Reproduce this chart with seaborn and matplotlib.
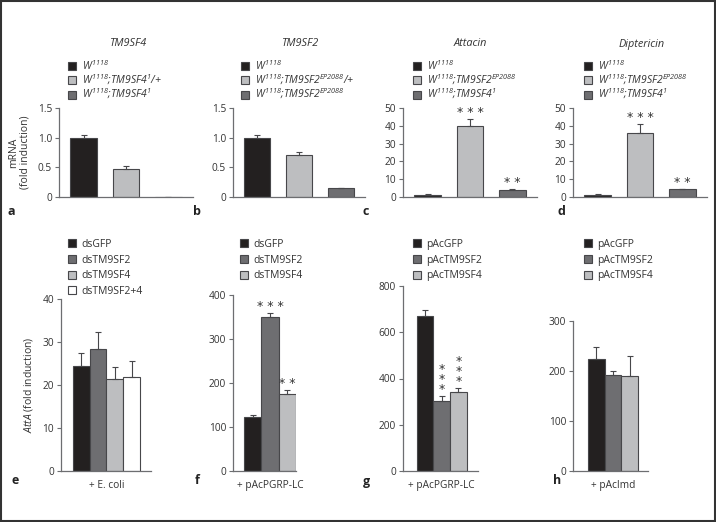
"""
TM9SF2 / TM9SF4 bar panels (a-h) re-drawn with seaborn.
"""

import numpy as np
import pandas as pd

import matplotlib
matplotlib.use('Agg')
import matplotlib.pyplot as plt
from matplotlib.patches import Rectangle
import seaborn as sns

sns.set_style('white')
plt.rcParams['font.family'] = ['Open Sans', 'DejaVu Sans']
plt.rcParams['mathtext.fontset'] = 'custom'
plt.rcParams['mathtext.it'] = 'Open Sans:italic'
plt.rcParams['mathtext.rm'] = 'Open Sans:italic'
plt.rcParams['mathtext.default'] = 'it'

BLACK = '#231f20'
DARK = '#6d6e71'
LIGHT = '#bcbec0'
WHITE = '#ffffff'
EDGE = '#47474a'
TXT = '#333333'

# ---- data: top row (mRNA fold induction) ----
a_groups = [r'$W^{1118}$', r'$W^{1118}$;$TM9SF4^{1}$/+', r'$W^{1118}$;$TM9SF4^{1}$']
a_vals = [1.0, 0.48, 0.004]
a_err = [0.04, 0.04, 0.0]

b_groups = [r'$W^{1118}$', r'$W^{1118}$;$TM9SF2^{EP2088}$/+', r'$W^{1118}$;$TM9SF2^{EP2088}$']
b_vals = [1.0, 0.71, 0.15]
b_err = [0.04, 0.05, 0.01]

c_groups = [r'$W^{1118}$', r'$W^{1118}$;$TM9SF2^{EP2088}$', r'$W^{1118}$;$TM9SF4^{1}$']
c_vals = [1.3, 40.0, 3.9]
c_err = [0.2, 4.0, 0.4]
c_stars = ['', '* * *', '* *']

d_groups = c_groups
d_vals = [1.3, 36.2, 4.3]
d_err = [0.2, 4.8, 0.4]
d_stars = ['', '* * *', '* *']

# ---- data: bottom row (AttA fold induction) ----
e_groups = ['dsGFP', 'dsTM9SF2', 'dsTM9SF4', 'dsTM9SF2+4']
e_vals = [24.5, 28.3, 21.4, 21.8]
e_err = [2.9, 4.0, 2.9, 3.7]

f_groups = ['dsGFP', 'dsTM9SF2', 'dsTM9SF4']
f_vals = [123, 350, 174]
f_err = [4, 8, 9]
f_stars = ['', '* * *', '* *']

g_groups = ['pAcGFP', 'pAcTM9SF2', 'pAcTM9SF4']
g_vals = [672, 302, 340]
g_err = [24, 22, 18]
g_stars = ['', '*\n*\n*', '*\n*\n*']

h_groups = g_groups
h_vals = [224, 193, 191]
h_err = [25, 7, 40]


def px_axes(fig, x0, x1, ytop, ybot):
    W, H = 716, 522
    return fig.add_axes([x0 / W, 1 - ybot / H, (x1 - x0) / W, (ybot - ytop) / H])


def style_axes(ax, yticks, ylabels):
    sns.despine(ax=ax)
    for s in ['left', 'bottom']:
        ax.spines[s].set_color('#6d6e71')
        ax.spines[s].set_linewidth(0.9)
    ax.set_yticks(yticks)
    ax.set_yticklabels(ylabels)
    ax.set_ylim(yticks[0], yticks[-1])
    ax.tick_params(axis='y', left=True, length=3, width=0.8, color='#6d6e71',
                   labelsize=7.3, labelcolor=TXT, pad=2)
    ax.tick_params(axis='x', bottom=False, labelsize=7.3, labelcolor=TXT, pad=3)
    ax.set_xlabel('')
    ax.set_ylabel('')


def add_errors_and_stars(ax, errs, stars=None):
    bars = [b for c in ax.containers for b in c]
    xs = [b.get_x() + b.get_width() / 2 for b in bars]
    hs = [b.get_height() for b in bars]
    ax.errorbar(xs, hs, yerr=[np.zeros(len(errs)), errs], fmt='none',
                ecolor=EDGE, elinewidth=0.8, capsize=2.5, capthick=0.8, zorder=1)
    if stars:
        for x, h, e, s in zip(xs, hs, errs, stars):
            if not s:
                continue
            ax.annotate(s, (x, h + e), xytext=(0, 0), textcoords='offset points',
                        ha='center', va='bottom', fontsize=9, color=TXT,
                        linespacing=0.7, family='DejaVu Sans')


def place_legend(ax, fig, x, ytop, spacing, italic=False):
    prop = {'size': 7.5}
    if italic:
        prop['style'] = 'italic'
    sns.move_legend(ax, 'upper left', bbox_to_anchor=(x / 716, 1 - ytop / 522),
                    bbox_transform=fig.transFigure, frameon=False, title=None,
                    prop=prop, handlelength=0.8, handleheight=0.8,
                    handletextpad=0.5, labelspacing=spacing, borderpad=0,
                    borderaxespad=0)
    for t in ax.get_legend().get_texts():
        t.set_color(TXT)


def main():
    fig = plt.figure(figsize=(7.16, 5.22), dpi=100)

    top = [
        ('TM9SF4', a_groups, a_vals, a_err, None, (59, 193), [0, 0.5, 1.0, 1.5],
         ['0', '0.5', '1.0', '1.5'], 68, 128, 'a', 8),
        ('TM9SF2', b_groups, b_vals, b_err, None, (233, 365), [0, 0.5, 1.0, 1.5],
         ['0', '0.5', '1.0', '1.5'], 241, 300, 'b', 193),
        ('Attacin', c_groups, c_vals, c_err, c_stars, (403, 537), [0, 10, 20, 30, 40, 50],
         ['0', '10', '20', '30', '40', '50'], 413, 470, 'c', 363),
        ('Diptericin', d_groups, d_vals, d_err, d_stars, (573, 707), [0, 10, 20, 30, 40, 50],
         ['0', '10', '20', '30', '40', '50'], 584, 642, 'd', 557),
    ]
    top_colors = [BLACK, LIGHT, DARK]

    for title, groups, vals, errs, stars, (x0, x1), yt, yl, lx, tx, letter, px in top:
        ax = px_axes(fig, x0, x1, 108, 197)
        df = pd.DataFrame({'group': groups, 'value': vals})
        sns.barplot(data=df, x='group', y='value', hue='group', order=groups,
                    hue_order=groups, palette=top_colors, errorbar=None, width=0.63,
                    edgecolor=EDGE, linewidth=0.8, legend=True, ax=ax)
        ax.set_xlim(-0.58, 2.58)
        ax.set_xticks([])
        style_axes(ax, yt, yl)
        add_errors_and_stars(ax, errs, stars)
        place_legend(ax, fig, lx, 59, 0.02, italic=True)
        fig.text(tx / 716, 1 - 44 / 522, title, ha='center', va='center',
                 fontsize=7.8, style='italic', color=TXT)
        fig.text(px / 716, 1 - 211 / 522, letter, ha='left', va='center',
                 fontsize=9, fontweight='bold', color='#222222')
        if letter == 'a':
            ax.set_ylabel('mRNA\n(fold induction)', fontsize=7.5, color=TXT,
                          labelpad=5, linespacing=1.1)

    bottom = [
        ('+ E. coli', e_groups, e_vals, e_err, None, (61, 151), 299, (-0.54, 0.53),
         [0, 10, 20, 30, 40], [BLACK, DARK, LIGHT, WHITE], 68, 'e', 12),
        ('+ pAcPGRP-LC', f_groups, f_vals, f_err, f_stars, (233, 296), 295, (-0.57, 0.4),
         [0, 100, 200, 300, 400], [BLACK, DARK, LIGHT], 240, 'f', 195),
        ('+ pAcPGRP-LC', g_groups, g_vals, g_err, g_stars, (403, 478), 286, (-0.62, 0.58),
         [0, 200, 400, 600, 800], [BLACK, DARK, LIGHT], 413, 'g', 363),
        ('+ pAcImd', h_groups, h_vals, h_err, None, (573, 648), 321, (-0.64, 0.56),
         [0, 100, 200, 300], [BLACK, DARK, LIGHT], 584, 'h', 553),
    ]

    for cond, groups, vals, errs, stars, (x0, x1), ytop, xlim, yt, colors, lx, letter, px in bottom:
        ax = px_axes(fig, x0, x1, ytop, 471)
        df = pd.DataFrame({'cond': [cond] * len(groups), 'group': groups, 'value': vals})
        sns.barplot(data=df, x='cond', y='value', hue='group', hue_order=groups,
                    palette=colors, errorbar=None, width=0.8, edgecolor=EDGE,
                    linewidth=0.8, legend=True, ax=ax)
        ax.set_xlim(*xlim)
        style_axes(ax, yt, [str(v) for v in yt])
        add_errors_and_stars(ax, errs, stars)
        place_legend(ax, fig, lx, 239, 0.45)
        fig.text(px / 716, 1 - 481 / 522, letter, ha='left', va='center',
                 fontsize=9, fontweight='bold', color='#222222')
        if letter == 'e':
            ax.set_ylabel(r'$AttA$ (fold induction)', fontsize=7.5, color=TXT, labelpad=5)

    # outer frame
    fig.patches.append(Rectangle((0.001, 0.001), 0.997, 0.997, transform=fig.transFigure,
                                 fill=False, edgecolor='#333333', linewidth=1.5))

    fig.savefig('out.png', dpi=100)
    plt.close(fig)


if __name__ == "__main__":
    main()
